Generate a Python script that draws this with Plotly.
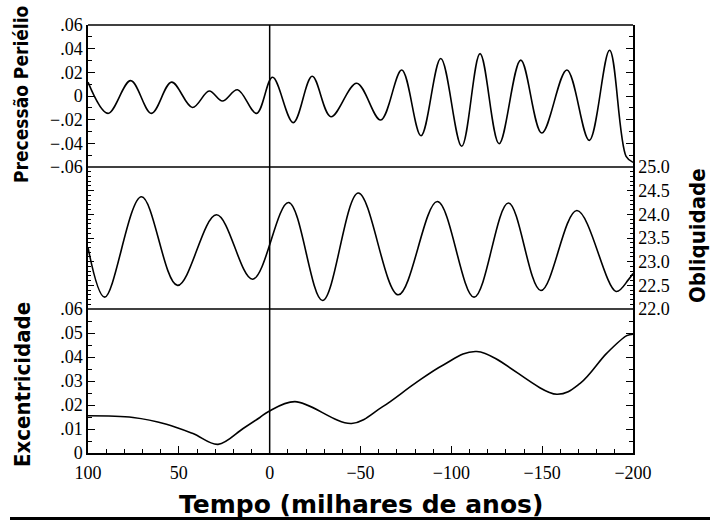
import plotly.graph_objects as go

# ---- data ----
prec_t = [100, 89.0, 76.5, 65.1, 54.0, 42.5, 33.3, 26.0, 17.7, 7.2, -1.6, -13.0, -23.4, -33.7,
          -47.9, -61.1, -72.7, -83.3, -94.2, -105.7, -115.8, -126.3, -138.2, -149.8, -163.6,
          -175.9, -187.1, -196.2, -200]
prec_v = [0.0117, -0.0147, 0.013, -0.0147, 0.0117, -0.0097, 0.0042, -0.0042, 0.0053, -0.0147,
          0.0158, -0.0225, 0.0167, -0.0175, 0.0108, -0.0203, 0.022, -0.0336, 0.0317, -0.0425,
          0.0358, -0.0403, 0.0303, -0.0313, 0.022, -0.0375, 0.0387, -0.051, -0.056]

obl_t = [100, 90.8, 70.6, 50.7, 29.3, 9.4, -10.4, -29.1, -48.8, -70.8, -92.3, -112.5, -131.4,
         -149.3, -169.1, -190.7, -197.5, -200]
obl_v = [23.3, 22.25, 24.37, 22.5, 23.99, 22.63, 24.25, 22.18, 24.45, 22.30, 24.27, 22.25, 24.24,
         22.39, 24.08, 22.37, 22.62, 22.75]

ecc_t = [100, 75.2, 56.8, 42.2, 28.4, 14.6, 5.4, 0.8, -13.9, -45.1, -62.0, -80.0, -95.6,
         -114.0, -158.1, -170.9, -185.6, -196.6, -200]
ecc_v = [0.0155, 0.0148, 0.012, 0.0081, 0.0036, 0.0102, 0.0148, 0.0172, 0.0214, 0.0123,
         0.0192, 0.0290, 0.0367, 0.0423, 0.0245, 0.029, 0.0416, 0.0489, 0.0495]

x_tickvals = [100, 50, 0, -50, -100, -150, -200]
x_ticktext = ["100", "50", "0", "\u221250", "\u2212100", "\u2212150", "\u2212200"]
prec_tickvals = [0.06, 0.04, 0.02, 0, -0.02, -0.04, -0.06]
prec_ticktext = [".06", ".04", ".02", "0", "\u2212.02", "\u2212.04", "\u2212.06"]
obl_tickvals = [25.0, 24.5, 24.0, 23.5, 23.0, 22.5, 22.0]
obl_ticktext = ["25.0", "24.5", "24.0", "23.5", "23.0", "22.5", "22.0"]
ecc_tickvals = [0.06, 0.05, 0.04, 0.03, 0.02, 0.01, 0]
ecc_ticktext = [".06", ".05", ".04", ".03", ".02", ".01", "0"]

# ---- figure ----
line = dict(color="black", width=1.6, shape="spline", smoothing=1.0)
fig = go.Figure()
fig.add_trace(go.Scatter(x=ecc_t, y=ecc_v, mode="lines", line=line, xaxis="x", yaxis="y"))
fig.add_trace(go.Scatter(x=obl_t, y=obl_v, mode="lines", line=line, xaxis="x", yaxis="y2"))
fig.add_trace(go.Scatter(x=prec_t, y=prec_v, mode="lines", line=line, xaxis="x", yaxis="y3"))

tickfont = dict(family="Liberation Serif", size=18, color="black")
d1 = 144 / 428
d2 = 286 / 428

common_y = dict(showgrid=False, zeroline=False, showline=True, linecolor="black", linewidth=1.5,
                ticks="inside", tickwidth=1.3, tickcolor="black", mirror="ticks",
                tickfont=tickfont, tickmode="array", anchor="x", fixedrange=True,
                automargin=False)

fig.update_layout(
    width=710, height=520,
    margin=dict(l=88, r=77, t=25, b=67, autoexpand=False),
    paper_bgcolor="white", plot_bgcolor="white",
    showlegend=False,
    xaxis=dict(range=[100, -200], showgrid=False, zeroline=False, showline=True,
               linecolor="black", linewidth=1.5, ticks="inside", ticklen=7, tickwidth=1.3,
               tickcolor="black", tickmode="array", tickvals=x_tickvals, ticktext=x_ticktext,
               tickfont=tickfont, anchor="y", automargin=False, fixedrange=True,
               ticklabelstandoff=3,
               minor=dict(ticks="inside", dtick=10, tick0=0, ticklen=4, tickcolor="black",
                          tickwidth=1.2)),
    yaxis=dict(domain=[0, d1], range=[0, 0.06], tickvals=ecc_tickvals, ticktext=ecc_ticktext,
               ticklen=7,
               minor=dict(ticks="inside", dtick=0.005, tick0=0, ticklen=4, tickcolor="black",
                          tickwidth=1.2),
               **common_y),
    yaxis2=dict(domain=[d1, d2], range=[22, 25], side="right", tickvals=obl_tickvals,
                ticktext=obl_ticktext, ticklen=6,
                minor=dict(ticks="inside", dtick=0.1, tick0=22, ticklen=3, tickcolor="black",
                           tickwidth=1),
                **common_y),
    yaxis3=dict(domain=[d2, 1], range=[-0.06, 0.06], tickvals=prec_tickvals,
                ticktext=prec_ticktext, ticklen=7,
                minor=dict(ticks="inside", dtick=0.01, tick0=0, ticklen=4, tickcolor="black",
                           tickwidth=1.2),
                **common_y),
)

# frame lines and separators
fig.add_shape(type="line", xref="paper", yref="paper", x0=0, x1=1, y0=1, y1=1,
              line=dict(color="black", width=1.5))
for yy in (d1, d2):
    fig.add_shape(type="line", xref="paper", yref="paper", x0=0, x1=1, y0=yy, y1=yy,
                  line=dict(color="black", width=1.5))
fig.add_shape(type="line", xref="x", yref="paper", x0=0, x1=0, y0=0, y1=1,
              line=dict(color="black", width=1.5))
# bottom black bar
fig.add_shape(type="line", xref="paper", yref="paper", x0=(10 - 88) / 545, x1=(712 - 88) / 545,
              y0=(453 - 518.5) / 428, y1=(453 - 518.5) / 428,
              line=dict(color="black", width=3))

fig.add_annotation(text="<b>Precessão Periélio</b>", xref="paper", yref="paper",
                   x=(21 - 88) / 545, y=(453 - 94) / 428, textangle=-90, showarrow=False,
                   xanchor="center", yanchor="middle",
                   font=dict(family="DejaVu Sans Condensed", size=19, color="black"))
fig.add_annotation(text="<b>Excentricidade</b>", xref="paper", yref="paper",
                   x=(22 - 88) / 545, y=(453 - 385) / 428, textangle=-90, showarrow=False,
                   xanchor="center", yanchor="middle",
                   font=dict(family="DejaVu Sans Condensed", size=22, color="black"))
fig.add_annotation(text="<b>Obliquidade</b>", xref="paper", yref="paper",
                   x=(697 - 88) / 545, y=(453 - 236) / 428, textangle=-90, showarrow=False,
                   xanchor="center", yanchor="middle",
                   font=dict(family="DejaVu Sans Condensed", size=22, color="black"))
fig.add_annotation(text="<b>Tempo (milhares de anos)</b>", xref="paper", yref="paper",
                   x=(361 - 88) / 545, y=(453 - 505) / 428, showarrow=False,
                   xanchor="center", yanchor="middle",
                   font=dict(family="DejaVu Sans", size=25, color="black"))

fig.write_html("out.html", config={"displayModeBar": False},
               post_script="document.body.style.margin='0';document.body.style.overflow='hidden';")
